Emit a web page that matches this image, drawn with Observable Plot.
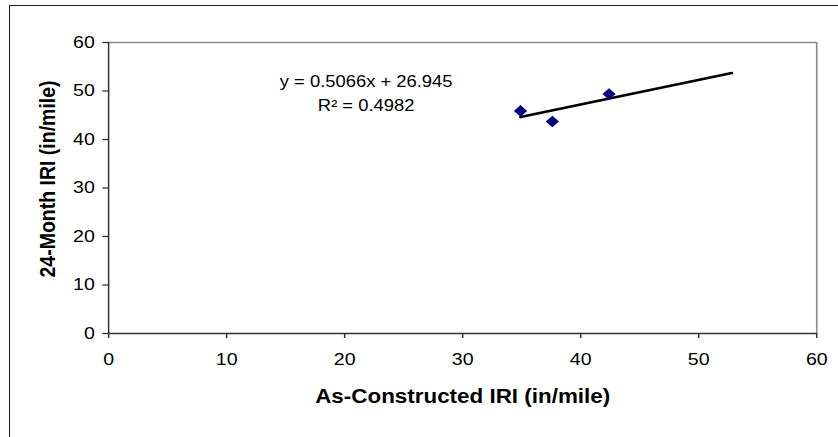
<!DOCTYPE html>
<html><head><meta charset="utf-8">
<script src="https://cdn.jsdelivr.net/npm/d3@7"></script>
<script src="https://cdn.jsdelivr.net/npm/@observablehq/plot@0.6"></script>
<style>
html,body{margin:0;padding:0;background:#fff;overflow:hidden;}
#wrap{position:relative;width:838px;height:437px;overflow:hidden;}
#border{position:absolute;left:9px;top:5px;width:900px;height:500px;border:1.6px solid #1a1a1a;box-sizing:border-box;pointer-events:none;}
#wrap svg{position:absolute;left:0;top:0;}
</style></head><body><div id="wrap"><div id="border"></div></div>
<script>
// Data
const asConstructed = [34.9, 37.6, 42.4];
const month24 = [45.9, 43.7, 49.4];
const xTicks = [0, 10, 20, 30, 40, 50, 60];
const yTicks = [0, 10, 20, 30, 40, 50, 60];
const slope = [0.5066];
const intercept = [26.945];
const rSquared = [0.4982];
const trendForecastEnd = [52.8];
const xTitle = ["As-Constructed IRI (in/mile)"];
const yTitle = ["24-Month IRI (in/mile)"];

const W = 729, H = 437, OUTW = 838;
const pts = asConstructed.map((x, i) => ({x, y: month24[i]}));
const trend = [d3.min(asConstructed), trendForecastEnd[0]].map(x => ({x, y: slope[0] * x + intercept[0]}));
const eq1 = [`y = ${slope[0]}x + ${intercept[0]}`];
const eq2 = [`R² = ${rSquared[0]}`];

const chart = Plot.plot({
  width: W, height: H,
  marginLeft: 94, marginRight: 19, marginTop: 42, marginBottom: 104,
  style: {fontFamily: "'Liberation Sans', Arial, sans-serif", background: "transparent", color: "#000"},
  x: {domain: [0, 60]},
  y: {domain: [0, 60]},
  marks: [
    Plot.ruleY([60], {stroke: "#8a8a8a", strokeWidth: 1.6}),
    Plot.ruleX([60], {stroke: "#8a8a8a", strokeWidth: 1.4}),
    Plot.axisX({ticks: xTicks, tickSize: 5, tickPadding: 14, fontSize: 17, label: null, stroke: "#333", strokeWidth: 1.3, tickFormat: d => String(d)}),
    Plot.axisY({ticks: yTicks, tickSize: 5, tickPadding: 7, fontSize: 17, label: null, stroke: "#333", strokeWidth: 1.3, tickFormat: d => String(d)}),
    Plot.ruleY([0], {stroke: "#333", strokeWidth: 1.5}),
    Plot.ruleX([0], {stroke: "#333", strokeWidth: 1.3}),
    Plot.line(trend, {x: "x", y: "y", stroke: "#000", strokeWidth: 2.6}),
    Plot.dot(pts, {x: "x", y: "y", symbol: "diamond2", r: 5.2, fill: "#000080", stroke: "none"}),
    Plot.text(eq1, {frameAnchor: "top", textAnchor: "middle", lineAnchor: "middle", dx: -84, dy: 39, fontSize: 16}),
    Plot.text(eq2, {frameAnchor: "top", textAnchor: "middle", lineAnchor: "middle", dx: -84, dy: 63, fontSize: 16}),
    Plot.text(xTitle, {frameAnchor: "bottom", textAnchor: "middle", lineAnchor: "middle", dy: 63, fontSize: 19.5, fontWeight: "bold"}),
    Plot.text(yTitle, {frameAnchor: "left", textAnchor: "middle", lineAnchor: "middle", rotate: -90, dx: -53, dy: -9, fontSize: 19.5, fontWeight: "bold"})
  ]
});
chart.setAttribute("width", OUTW);
chart.setAttribute("height", H);
chart.setAttribute("preserveAspectRatio", "none");
chart.style.width = OUTW + "px";
chart.style.height = H + "px";
chart.style.maxWidth = "none";
document.getElementById("wrap").appendChild(chart);
</script>
</body></html>
